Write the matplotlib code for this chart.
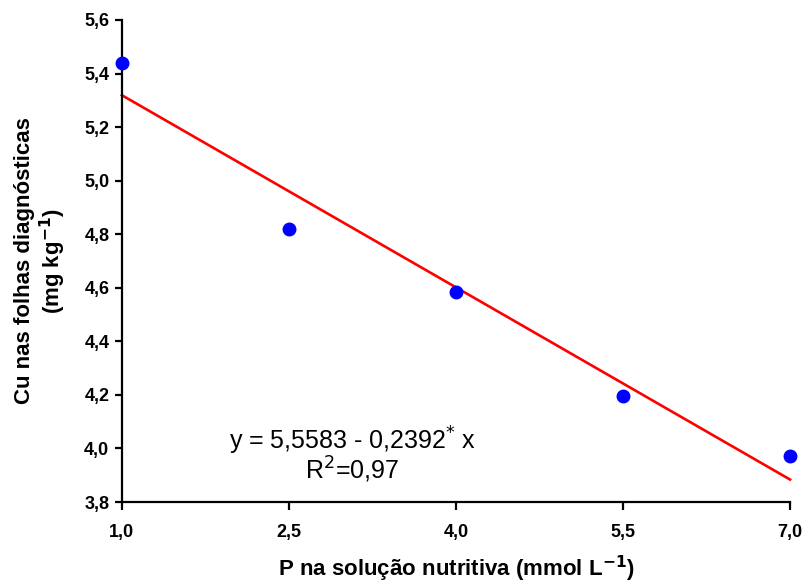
import matplotlib
matplotlib.use("Agg")
import matplotlib.pyplot as plt
import numpy as np

plt.rcParams['font.family'] = ['Liberation Sans', 'DejaVu Sans']

x_vals = [1.0, 2.5, 4.0, 5.5, 7.0]
y_vals = [5.44, 4.82, 4.585, 4.195, 3.97]
intercept = 5.5583
slope = -0.2392
x_ticks = [1.0, 2.5, 4.0, 5.5, 7.0]
x_ticklabels = ["1,0", "2,5", "4,0", "5,5", "7,0"]
y_ticks = [3.8, 4.0, 4.2, 4.4, 4.6, 4.8, 5.0, 5.2, 5.4, 5.6]
y_ticklabels = ["3,8", "4,0", "4,2", "4,4", "4,6", "4,8", "5,0", "5,2", "5,4", "5,6"]

fig = plt.figure(figsize=(8.07, 5.84), dpi=100)
ax = fig.add_axes([0.151, 0.1404, 0.828, 0.8254])

xl = np.array([x_vals[0], x_vals[-1]])
ax.plot(xl, intercept + slope * xl, color='#ff0000', lw=1.9, clip_on=False, zorder=2)
ax.plot(x_vals, y_vals, 'o', color='#0000ff', markersize=9, clip_on=False, zorder=3)

ax.set_xlim(1.0, 7.0)
ax.set_ylim(3.8, 5.6)
ax.set_xticks(x_ticks)
ax.set_xticklabels(x_ticklabels, fontsize=13, fontweight='bold')
ax.set_yticks(y_ticks)
ax.set_yticklabels(y_ticklabels, fontsize=13, fontweight='bold')

for s in ['top', 'right']:
    ax.spines[s].set_visible(False)
for s in ['left', 'bottom']:
    ax.spines[s].set_linewidth(1.6)
ax.tick_params(axis='y', direction='out', length=5, width=1.6, pad=4)
ax.tick_params(axis='x', direction='out', length=6, width=1.6, pad=10)

ax.set_xlabel("P na solução nutritiva (mmol L$^{\\mathbf{-1}}$)", fontsize=16, fontweight='bold', labelpad=9)
ax.set_ylabel("Cu nas folhas diagnósticas\n(mg kg$^{\\mathbf{-1}}$)", fontsize=16, fontweight='bold', labelpad=12, linespacing=1.1)

ax.text(3.07, 4.03, "y = 5,5583 - 0,2392$^{*}$ x", fontsize=18, ha='center', va='center')
ax.text(3.07, 3.92, "R$^{2}$=0,97", fontsize=18, ha='center', va='center')

fig.savefig("out.png", dpi=100)
